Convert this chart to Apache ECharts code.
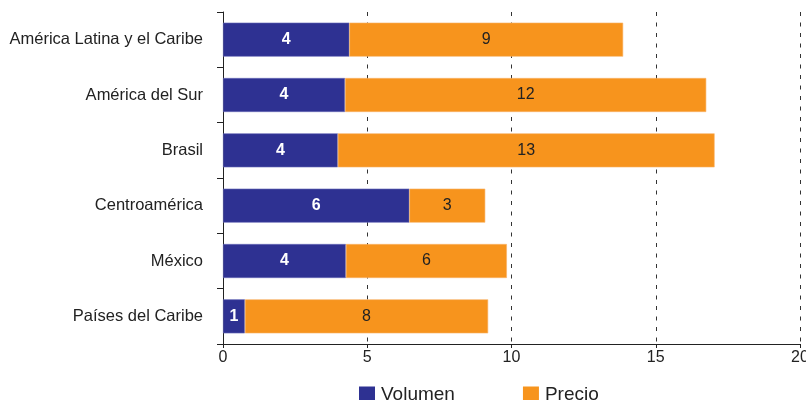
<!DOCTYPE html>
<html>
<head>
<meta charset="utf-8">
<script src="https://cdn.jsdelivr.net/npm/echarts@6/dist/echarts.min.js"></script>
<style>
html,body{margin:0;padding:0;background:#fff;}
#chart{width:806px;height:400px;}
</style>
</head>
<body>
<div id="chart"></div>
<script>
var categories = ['América Latina y el Caribe', 'América del Sur', 'Brasil', 'Centroamérica', 'México', 'Países del Caribe'];
var volumen = [4.38, 4.23, 3.98, 6.46, 4.26, 0.76];
var precio = [9.49, 12.52, 13.06, 2.63, 5.58, 8.43];
var volumenLabels = ['4', '4', '4', '6', '4', '1'];
var precioLabels = ['9', '12', '13', '3', '6', '8'];
var xTicks = [0, 5, 10, 15, 20];

var FONT = '"Liberation Sans", Arial, sans-serif';
var chart = echarts.init(document.getElementById('chart'), null, {renderer: 'canvas'});
chart.setOption({
  animation: false,
  textStyle: {fontFamily: FONT},
  grid: {left: 223, right: 6, top: 12, bottom: 56, containLabel: false, outerBoundsMode: 'none'},
  legend: {
    data: ['Volumen', 'Precio'],
    left: 359, top: 385, padding: 0,
    itemWidth: 16, itemHeight: 16, itemGap: 68,
    icon: 'rect',
    itemStyle: {borderWidth: 0},
    textStyle: {fontFamily: FONT, fontSize: 19, color: '#222', padding: [0, 0, 0, 1]}
  },
  xAxis: {
    type: 'value',
    min: xTicks[0], max: xTicks[xTicks.length - 1], interval: 5,
    axisLine: {show: true, lineStyle: {color: '#222', width: 1}},
    axisTick: {show: true, length: 4, lineStyle: {color: '#222'}},
    axisLabel: {fontFamily: FONT, fontSize: 16, color: '#222', margin: 6},
    splitLine: {show: true, lineStyle: {color: '#333', width: 1, type: [4, 6.5]}}
  },
  yAxis: {
    type: 'category',
    data: categories,
    inverse: true,
    axisLine: {show: true, lineStyle: {color: '#222', width: 1}},
    axisTick: {show: true, length: 6, lineStyle: {color: '#222'}},
    axisLabel: {fontFamily: FONT, fontSize: 16.5, color: '#222', margin: 20}
  },
  series: [
    {
      name: 'Volumen', type: 'bar', stack: 'total', barWidth: 34,
      itemStyle: {color: '#2E3192', borderColor: '#6a6cb8', borderWidth: 0.6},
      label: {show: true, position: 'inside', color: '#fff', fontWeight: 'bold', fontSize: 16, fontFamily: FONT,
        formatter: function (p) { return volumenLabels[p.dataIndex]; }},
      data: volumen
    },
    {
      name: 'Precio', type: 'bar', stack: 'total', barWidth: 34,
      itemStyle: {color: '#F7941D', borderColor: '#f9b46a', borderWidth: 0.6},
      label: {show: true, position: 'inside', color: '#222', fontSize: 16, fontFamily: FONT,
        formatter: function (p) { return precioLabels[p.dataIndex]; }},
      data: precio
    }
  ]
});
</script>
</body>
</html>
